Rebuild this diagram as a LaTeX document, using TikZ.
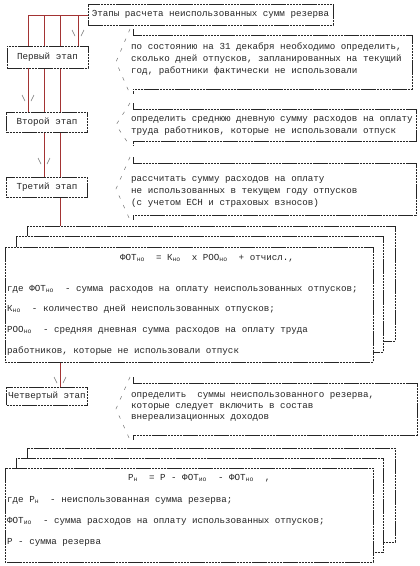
\documentclass[tikz,border=0pt]{standalone}
\usepackage{fontspec}
\setmainfont{Liberation Mono}
\begin{document}
\begin{tikzpicture}[x=1pt,y=-1pt,
  every node/.style={font=\fontsize{9.2}{11}\selectfont, text=black!85, inner sep=0pt},
  conn/.style={draw=red!55!black!80, line width=0.6pt},
  vmark/.style={draw=black!55, line width=0.5pt},
  boxline/.style={draw=black!85, line width=0.7pt, dash pattern=on 2.5pt off 0.6pt},
  stagebox/.style={boxline, fill=white, minimum width=81pt, anchor=center},
  bracestyle/.style={draw=black!55, line width=0.5pt, dash pattern=on 3.5pt off 7pt},
  txt/.style={anchor=west}
]
\useasboundingbox (0,0) rectangle (420,566);
\fill[white] (0,0) rectangle (420,566);

% coordinates for connector ends
\coordinate (hl) at (28,15);
\coordinate (t28) at (28,15);
\coordinate (t44) at (44,15);
\coordinate (t60) at (60,15);
\coordinate (t78) at (78,15);

% title
\node[boxline, fill=white, minimum width=245pt, minimum height=21pt] (title) at (210.5,14.5) {Этапы расчета неиспользованных сумм резерва};

% stage boxes positions (drawn later over connectors)
\coordinate (s1c) at (47.5,57);
\coordinate (s2c) at (47,122);
\coordinate (s3c) at (47,187.5);
\coordinate (s4c) at (47,396);

% connectors
\draw[conn] (title.west |- t28) -- (t28);
\draw[conn] (t78) -- (78,46);
\draw[conn] (t28) -- (28,112);
\draw[conn] (t44) -- (44,178);
\draw[conn] (t60) -- (60,226);
\draw[conn] (60,362) -- (60,387);

% arrow marks
\foreach \x/\y in {78/34, 28/99, 44/162, 60/381}{
  \draw[vmark] (\x-6,\y-4) -- (\x-3,\y+2);
  \draw[vmark] (\x+6,\y-4) -- (\x+3,\y+2);
}

% stage boxes
\node[stagebox, minimum height=22pt] (s1) at (s1c) {Первый этап};
\node[stagebox, minimum height=20pt] (s2) at (s2c) {Второй этап};
\node[stagebox, minimum height=20pt] (s3) at (s3c) {Третий этап};
\node[stagebox, minimum height=18pt] (s4) at (s4c) {Четвертый этап};

% text boxes: partial borders
\foreach \t/\b/\r in {35/89/412, 109/141/416, 163/215/416, 383/435/417}{
  \draw[boxline] (133,\t-6) -- (133,\t) -- (\r,\t) -- (\r,\b) -- (133,\b) -- (133,\b+5);
  \draw[bracestyle] (130,\t-6) -- (116,{(\t+\b)/2}) -- (130,\b+5);
}

% text box contents
\node[txt] (a1) at (131,47) {по состоянию на 31 декабря необходимо определить,};
\node[txt] (a2) at (131,59) {сколько дней отпусков, запланированных на текущий};
\node[txt] (a3) at (131,71) {год, работники фактически не использовали};

\node[txt] (b1) at (131,120) {определить среднюю дневную сумму расходов на оплату};
\node[txt] (b2) at (131,131) {труда работников, которые не использовали отпуск};

\node[txt] (c1) at (131,180) {рассчитать сумму расходов на оплату};
\node[txt] (c2) at (131,191.5) {не использованных в текущем году отпусков};
\node[txt] (c3) at (131,203) {(с учетом ЕСН и страховых взносов)};

\node[txt] (d1) at (131,396) {определить \ суммы неиспользованного резерва,};
\node[txt] (d2) at (131,407) {которые следует включить в состав};
\node[txt] (d3) at (131,418) {внереализационных доходов};

% formula stack 1
\draw[boxline, fill=white] (27,226) rectangle (395,341);
\draw[boxline, fill=white] (16,236) rectangle (383,352);
\draw[boxline, fill=white] (5,247) rectangle (373,362);
\node[txt] (f1) at (120,258) {ФОТ\textsubscript{но}\ \ = К\textsubscript{но}\ \ х РОО\textsubscript{но}\ \ + отчисл.,};
\node[txt] (f2) at (7,289) {где ФОТ\textsubscript{но}\ \ - сумма расходов на оплату неиспользованных отпусков;};
\node[txt] (f3) at (7,309) {К\textsubscript{но}\ \ - количество дней неиспользованных отпусков;};
\node[txt] (f4) at (7,330) {РОО\textsubscript{но}\ \ - средняя дневная сумма расходов на оплату труда};
\node[txt] (f5) at (7,351) {работников, которые не использовали отпуск};

% formula stack 2
\draw[boxline, fill=white] (27,448) rectangle (395,542);
\draw[boxline, fill=white] (16,458) rectangle (383,552);
\draw[boxline, fill=white] (5,468) rectangle (373,562);
\node[txt] (g1) at (128,478) {Р\textsubscript{н}\ \ = Р - ФОТ\textsubscript{ио}\ \ - ФОТ\textsubscript{но}\ \ ,};
\node[txt] (g2) at (7,500) {где Р\textsubscript{н}\ \ - неиспользованная сумма резерва;};
\node[txt] (g3) at (7,521) {ФОТ\textsubscript{ио}\ \ - сумма расходов на оплату использованных отпусков;};
\node[txt] (g4) at (7,542) {Р - сумма резерва};
\end{tikzpicture}
\end{document}
